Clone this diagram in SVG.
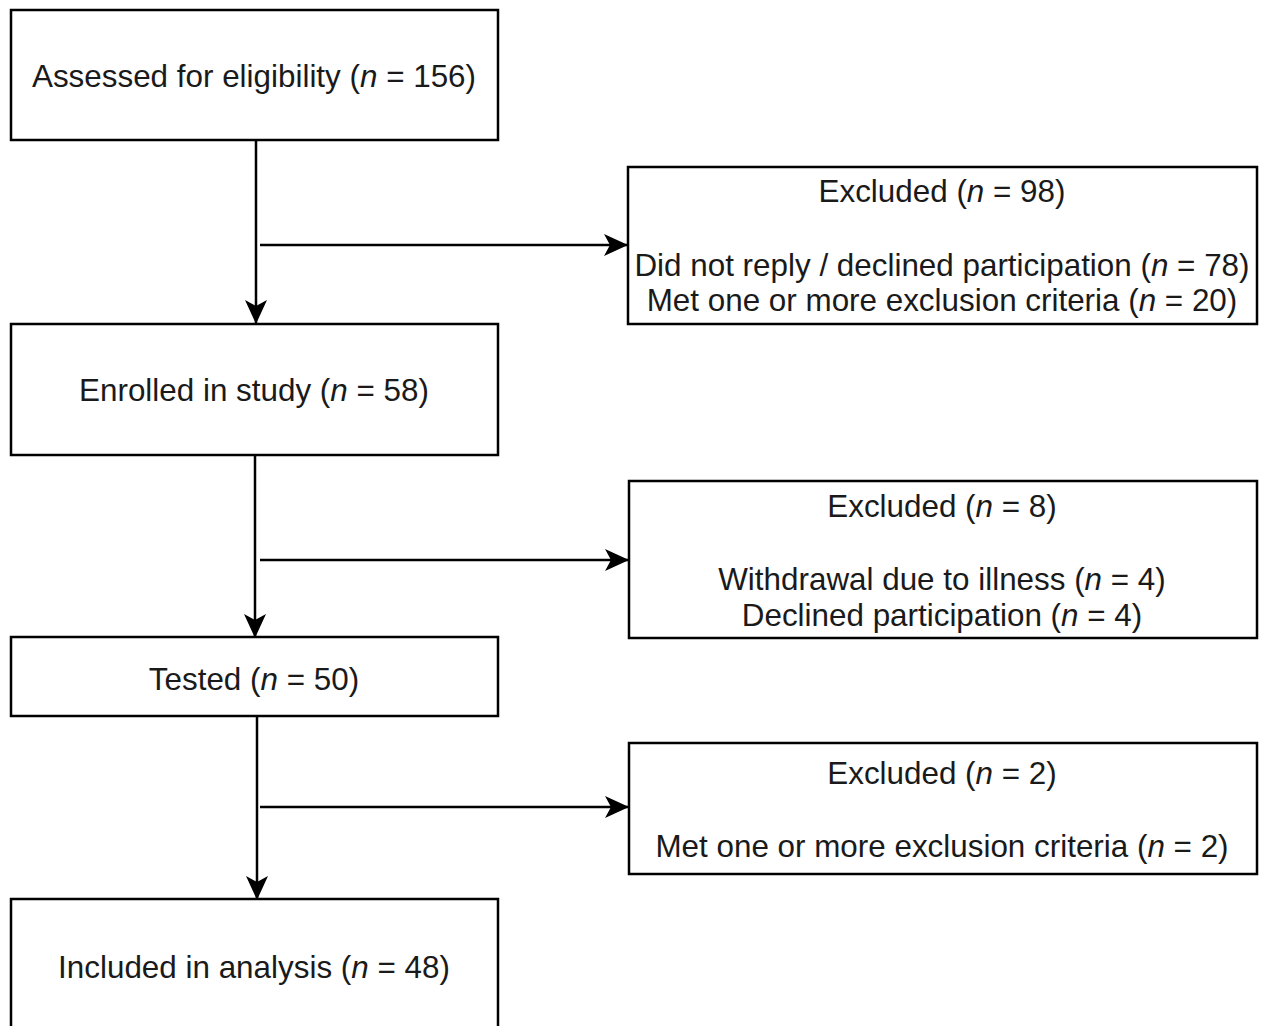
<svg xmlns="http://www.w3.org/2000/svg" width="1269" height="1026" viewBox="0 0 1269 1026">
<defs>
<style>
.box{fill:#fff;stroke:#000;stroke-width:2.5}
.t{font-family:"Liberation Sans",Arial,sans-serif;font-size:31.4px;fill:#1a1a1a;text-anchor:middle}
.i{font-style:italic}
.c{stroke:#000;stroke-width:2.5;fill:none}
</style>
<marker id="ah" viewBox="0 0 24 24" refX="23" refY="12" markerWidth="24" markerHeight="24" markerUnits="userSpaceOnUse" orient="auto">
<path d="M0,1 L24,12 L0,23 L6,12 Z" fill="#000"/>
</marker>
</defs>
<rect width="1269" height="1026" fill="#fff"/>
<g id="connectors">
<line class="c" x1="256" y1="140" x2="256" y2="323" marker-end="url(#ah)"/>
<line class="c" x1="260" y1="245" x2="627" y2="245" marker-end="url(#ah)"/>
<line class="c" x1="255" y1="455" x2="255" y2="637" marker-end="url(#ah)"/>
<line class="c" x1="260" y1="560" x2="628" y2="560" marker-end="url(#ah)"/>
<line class="c" x1="257" y1="716" x2="257" y2="899" marker-end="url(#ah)"/>
<line class="c" x1="260" y1="807" x2="628" y2="807" marker-end="url(#ah)"/>
</g>
<g id="assessed">
<rect class="box" x="11" y="10" width="487" height="130"/>
<text class="t" x="254" y="87">Assessed for eligibility (<tspan class="i">n</tspan> = 156)</text>
</g>
<g id="excluded1">
<rect class="box" x="628" y="167" width="629" height="157"/>
<text class="t" x="942" y="202">Excluded (<tspan class="i">n</tspan> = 98)</text>
<text class="t" x="942" y="276">Did not reply / declined participation (<tspan class="i">n</tspan> = 78)</text>
<text class="t" x="942" y="311">Met one or more exclusion criteria (<tspan class="i">n</tspan> = 20)</text>
</g>
<g id="enrolled">
<rect class="box" x="11" y="324" width="487" height="131"/>
<text class="t" x="254" y="401">Enrolled in study (<tspan class="i">n</tspan> = 58)</text>
</g>
<g id="excluded2">
<rect class="box" x="629" y="481" width="628" height="157"/>
<text class="t" x="942" y="517">Excluded (<tspan class="i">n</tspan> = 8)</text>
<text class="t" x="942" y="590">Withdrawal due to illness (<tspan class="i">n</tspan> = 4)</text>
<text class="t" x="942" y="626">Declined participation (<tspan class="i">n</tspan> = 4)</text>
</g>
<g id="tested">
<rect class="box" x="11" y="637" width="487" height="79"/>
<text class="t" x="254" y="690">Tested (<tspan class="i">n</tspan> = 50)</text>
</g>
<g id="excluded3">
<rect class="box" x="629" y="743" width="628" height="131"/>
<text class="t" x="942" y="784">Excluded (<tspan class="i">n</tspan> = 2)</text>
<text class="t" x="942" y="857">Met one or more exclusion criteria (<tspan class="i">n</tspan> = 2)</text>
</g>
<g id="included">
<rect class="box" x="11" y="899" width="487" height="140"/>
<text class="t" x="254" y="978">Included in analysis (<tspan class="i">n</tspan> = 48)</text>
</g>
</svg>
